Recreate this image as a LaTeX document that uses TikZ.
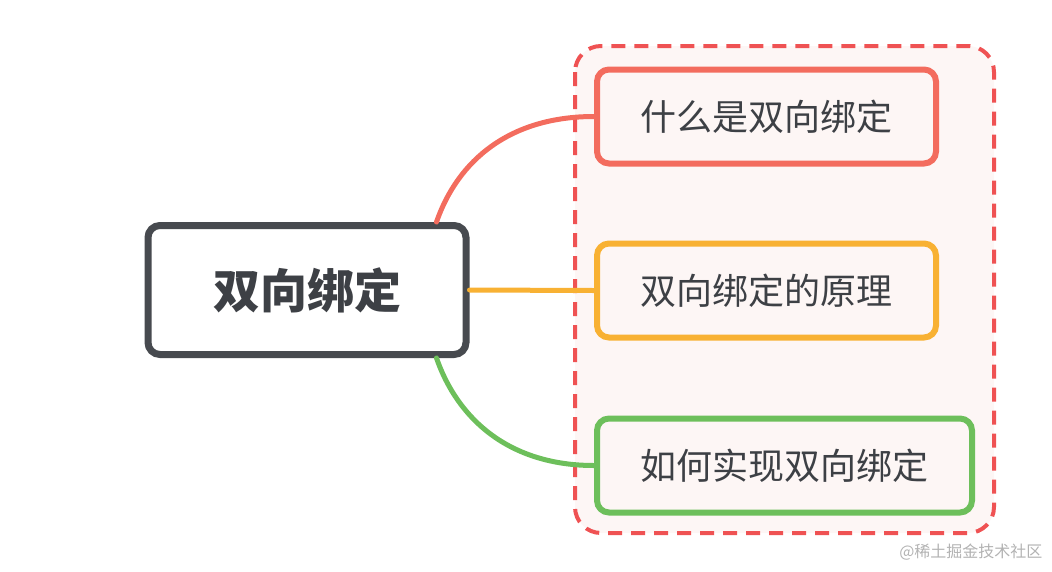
\documentclass[tikz,border=0pt]{standalone}
\usepackage{fontspec}
\setmainfont{Noto Sans CJK SC}
\usetikzlibrary{positioning}
\definecolor{fg}{HTML}{3D4045}
\definecolor{rootline}{HTML}{474A4F}
\definecolor{redline}{HTML}{F36C5E}
\definecolor{orangeline}{HTML}{F8B133}
\definecolor{greenline}{HTML}{6DBF5B}
\definecolor{frameline}{HTML}{EF5253}
\definecolor{framefill}{HTML}{FDF6F5}
\tikzstyle{root}=[draw=rootline, line width=7pt, rounded corners=12pt, fill=white,
minimum width=318pt, minimum height=129pt, text=fg, font=\fontsize{47}{50}\selectfont\bfseries]
\tikzstyle{topic}=[line width=6pt, rounded corners=12pt, fill=framefill,
minimum height=94pt, text=fg, font=\fontsize{36}{40}\selectfont]
\tikzstyle{branch}=[line width=5pt, line cap=round]

\begin{document}
\begin{tikzpicture}[x=1pt, y=-1pt]
    \useasboundingbox (0,0) rectangle (1052,571);

    % dashed group frame
    \draw[frameline, fill=framefill, line width=4pt, dash pattern=on 14pt off 9pt,
        rounded corners=26pt] (575,46) rectangle (994,533);

    \node[root] (main) at (307,290) {双向绑定};

    \node[topic, draw=redline, minimum width=339pt] (what) at (766.5,116.5) {什么是双向绑定};
    \node[topic, draw=orangeline, minimum width=339pt] (how) at (766.5,290.5) {双向绑定的原理};
    \node[topic, draw=greenline, minimum width=375pt] (impl) at (784.5,465.5) {如何实现双向绑定};

    \draw[branch, redline] ([xshift=-33pt]main.north east) .. controls (458,160) and (510,116.5) .. (what.west);
    \draw[branch, orangeline] (main.east) -- (how.west);
    \draw[branch, greenline] ([xshift=-33pt]main.south east) .. controls (458,420) and (510,465.5) .. (impl.west);

    \node[text=black!30, font=\fontsize{16}{18}\selectfont, anchor=east] (mark) at (1046,552) {@稀土掘金技术社区};
\end{tikzpicture}
\end{document}
